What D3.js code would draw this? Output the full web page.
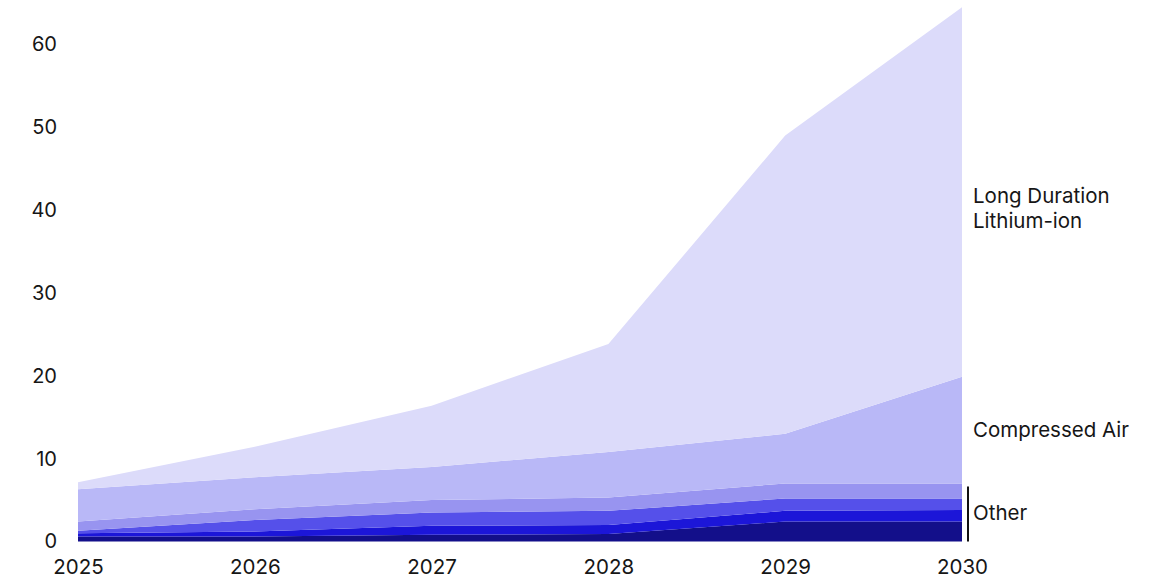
<!DOCTYPE html>
<html>
<head>
<meta charset="utf-8">
<script src="https://cdn.jsdelivr.net/npm/d3@7"></script>
<style>
  body { margin: 0; background: #fff; }
  .chart text { font-family: Inter, "Noto Sans", sans-serif; fill: #161616; }
</style>
</head>
<body>
<div class="chart"></div>
<script>
// data (bottom layer first)
const years = [2025, 2026, 2027, 2028, 2029, 2030];
const other1 = [0.6, 0.6, 0.8, 0.9, 2.4, 2.4];
const other2 = [0.4, 0.6, 1.1, 1.1, 1.3, 1.4];
const other3 = [0.3, 1.4, 1.6, 1.7, 1.5, 1.4];
const other4 = [1.1, 1.3, 1.5, 1.6, 1.8, 1.8];
const compressedAir = [3.9, 3.85, 4.0, 5.5, 6.0, 12.9];
const longDuration = [0.85, 3.7, 7.4, 13.05, 36.0, 44.6];
const yTicks = [0, 10, 20, 30, 40, 50, 60];

const keys = ['other1', 'other2', 'other3', 'other4', 'compressedAir', 'longDuration'];
const colors = ['#130f8a', '#1c16d8', '#5550ea', '#9894f0', '#b9b8f7', '#dcdbfa'];

const rows = years.map((y, i) => ({
    year: y,
    other1: other1[i],
    other2: other2[i],
    other3: other3[i],
    other4: other4[i],
    compressedAir: compressedAir[i],
    longDuration: longDuration[i]
}));

const width = 1151;
const height = 578;

const svg = d3.select('.chart')
    .append('svg')
    .attr('width', width)
    .attr('height', height);

const xScale = d3.scaleLinear()
    .domain([2025, 2030])
    .range([78, 962]);

const yScale = d3.scaleLinear()
    .domain([0, 60])
    .range([541.5, 44.5]);

const stacked = d3.stack().keys(keys)(rows);

const area = d3.area()
    .x(d => xScale(d.data.year))
    .y0(d => yScale(d[0]))
    .y1(d => yScale(d[1]));

svg.selectAll('.layer')
    .data(stacked)
    .enter()
    .append('path')
    .attr('class', 'layer')
    .attr('d', area)
    .attr('fill', (d, i) => colors[i]);

// y axis, labels only
const yAxis = d3.axisLeft(yScale)
    .tickValues(yTicks)
    .tickSize(0)
    .tickPadding(0);

svg.append('g')
    .attr('class', 'y-axis')
    .attr('transform', 'translate(57,0)')
    .call(yAxis)
    .call(g => g.select('.domain').remove())
    .selectAll('text')
    .attr('font-size', 20)
    .attr('font-family', null);

// x axis, labels only
const xAxis = d3.axisBottom(xScale)
    .tickValues(years)
    .tickFormat(d3.format('d'))
    .tickSize(0)
    .tickPadding(0);

svg.append('g')
    .attr('class', 'x-axis')
    .attr('transform', 'translate(0,559)')
    .call(xAxis)
    .call(g => g.select('.domain').remove())
    .selectAll('text')
    .attr('font-size', 20.5)
    .attr('font-family', null);

// series labels on the right
const lastX = xScale(2030);
const labelX = lastX + 11;
const labelSize = 20.5;

svg.append('text')
    .attr('x', labelX)
    .attr('y', 203)
    .attr('font-size', labelSize)
    .text('Long Duration');
svg.append('text')
    .attr('x', labelX)
    .attr('y', 228)
    .attr('font-size', labelSize)
    .text('Lithium-ion');

svg.append('text')
    .attr('x', labelX)
    .attr('y', 437)
    .attr('font-size', labelSize)
    .text('Compressed Air');

// bracket for the "Other" group
const otherTop = yScale(other1[5] + other2[5] + other3[5] + other4[5]);
svg.append('line')
    .attr('x1', lastX + 6)
    .attr('x2', lastX + 6)
    .attr('y1', otherTop + 3)
    .attr('y2', yScale(0))
    .attr('stroke', '#111')
    .attr('stroke-width', 2);

svg.append('text')
    .attr('x', labelX)
    .attr('y', 520)
    .attr('font-size', labelSize)
    .text('Other');
</script>
</body>
</html>
